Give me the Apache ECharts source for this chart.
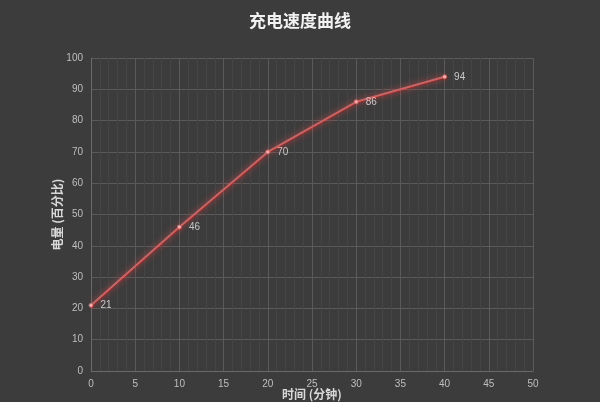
<!DOCTYPE html>
<html>
<head>
<meta charset="utf-8">
<script src="https://cdn.jsdelivr.net/npm/echarts@6/dist/echarts.min.js"></script>
<style>
html, body { margin: 0; padding: 0; background: #3c3c3c; }
#container { width: 600px; height: 402px; }
</style>
</head>
<body>
<div id="container"></div>
<script>
// 充电数据
var minutes = [0, 10, 20, 30, 40];
var battery = [21, 46, 70, 86, 94];

var points = [];
for (var i = 0; i < minutes.length; i++) {
    points.push([minutes[i], battery[i]]);
}

var myChart = echarts.init(document.getElementById("container"));
var option = {
    backgroundColor: '#3c3c3c',
    title: {
        text: '充电速度曲线',
        left: 'center',
        top: 7,
        textStyle: { color: '#f2f2f2', fontSize: 17, fontWeight: 'bold', fontFamily: 'Noto Sans CJK SC' }
    },
    grid: { left: 91, right: 67, top: 58, bottom: 31, outerBoundsMode: 'none', containLabel: false },
    xAxis: {
        type: 'value',
        min: 0, max: 50, interval: 5,
        name: '时间 (分钟)',
        nameLocation: 'middle',
        nameGap: 17,
        nameMoveOverlap: false,
        nameTextStyle: { color: '#d9d9d9', fontSize: 12, fontWeight: 'bold', fontFamily: 'Noto Sans CJK SC' },
        axisLine: { lineStyle: { color: '#6a6a6a' } },
        axisTick: { show: false },
        axisLabel: { color: '#bfbfbf', fontSize: 10, margin: 8 },
        splitLine: { lineStyle: { color: '#5a5a5a', width: 1 } },
        minorTick: { show: false, splitNumber: 5 },
        minorSplitLine: { show: true, lineStyle: { color: '#454545', width: 1 } }
    },
    yAxis: {
        type: 'value',
        min: 0, max: 100, interval: 10,
        name: '电量 (百分比)',
        nameLocation: 'middle',
        nameGap: 28,
        nameMoveOverlap: false,
        nameRotate: 90,
        nameTextStyle: { color: '#d9d9d9', fontSize: 12, fontWeight: 'bold', fontFamily: 'Noto Sans CJK SC' },
        axisLine: { show: true, lineStyle: { color: '#6a6a6a' } },
        axisTick: { show: false },
        axisLabel: { color: '#bfbfbf', fontSize: 10, margin: 8 },
        splitLine: { lineStyle: { color: '#5a5a5a', width: 1 } }
    },
    series: [{
        type: 'line',
        data: points,
        symbol: 'circle',
        symbolSize: 4,
        itemStyle: { color: '#ffb0b0', borderColor: '#e05a5a', borderWidth: 1 },
        lineStyle: { color: '#e05a5a', width: 2, shadowColor: 'rgba(255,80,80,0.8)', shadowBlur: 6 },
        label: {
            show: true,
            position: 'right',
            distance: 7,
            color: '#c8c8c8',
            fontSize: 10
        },
        animation: false
    }]
};
myChart.setOption(option);
</script>
</body>
</html>
